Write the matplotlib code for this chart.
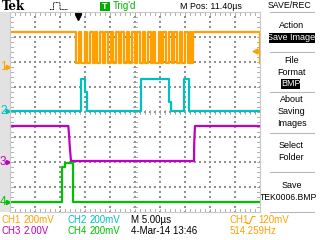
import matplotlib.pyplot as plt
import numpy as np

# time base: 5 us/div, 10 divisions -> 0..50 us ; vertical in divisions (-4..4)
ch1_edges = [13.2, 13.8, 14.2, 14.9, 15.3, 15.9, 16.5, 17.0, 17.4, 18.0,
             18.6, 19.0, 19.6, 20.2, 20.6, 21.1, 21.8, 22.2, 22.7, 23.4,
             23.8, 24.3, 24.9, 25.3, 25.9, 26.5, 26.9, 27.5, 28.1, 28.5,
             29.0, 29.7, 30.1, 30.6, 31.2, 31.7, 32.3, 32.8, 33.3, 33.9,
             34.4, 34.9, 35.5, 35.9, 36.2, 36.6]
ch1_high, ch1_low = 3.2, 1.94

ch2_t = [0, 14.26, 14.26, 15.06, 15.06, 15.4, 15.4, 26.14, 26.14, 31.86, 31.86,
         32.14, 32.14, 34.86, 34.86, 35.86, 35.86, 50]
ch2_v = [0.05, 0.05, 1.32, 1.32, 0.81, 0.81, 0.05, 0.05, 1.32, 1.32, 0.4,
         0.4, 0.05, 0.05, 1.32, 1.32, 0.05, 0.05]

ch3_t = [0, 11.66, 11.8, 12.0, 12.2, 36.8, 36.85, 37.0, 50]
ch3_v = [-0.56, -0.56, -0.9, -1.5, -1.96, -1.96, -1.2, -0.56, -0.56]

ch4_t = [0, 10.46, 10.46, 10.9, 10.9, 12.66, 12.66, 50]
ch4_v = [-3.61, -3.61, -2.19, -2.19, -2.05, -2.05, -3.61, -3.61]

ground = {"1": 1.81, "2": 0.06, "3": -1.99, "4": -3.6}
trig_level = 2.44
trig_pos = 13.6

ORANGE = "#ffa000"
CYAN = "#00c0c0"
MAGENTA = "#c000c0"
GREEN = "#00c000"
colors = {"1": ORANGE, "2": CYAN, "3": MAGENTA, "4": GREEN}

plt.rcParams["font.family"] = ["Liberation Sans", "DejaVu Sans"]

fig = plt.figure(figsize=(3.2, 2.4), dpi=100)
fig.patch.set_facecolor("white")

# overlay in screen pixels for the surrounding text
ov = fig.add_axes([0, 0, 1, 1])
ov.set_xlim(0, 320)
ov.set_ylim(240, 0)
ov.axis("off")
ov.add_patch(plt.Rectangle((0, 12), 10, 200, color="#e2e2e2", lw=0))

ax = fig.add_axes([10 / 320, 28 / 240, 250 / 320, 200 / 240])
ax.set_xlim(0, 50)
ax.set_ylim(-4, 4)
ax.set_facecolor("white")
ax.set_xticks([])
ax.set_yticks([])
for s in ax.spines.values():
    s.set_color("#c8c8c8")
    s.set_linewidth(0.8)

# graticule dots
dot = dict(s=1.3, c="#909090", marker="s", linewidths=0)
for gx in range(5, 50, 5):
    yy = np.arange(-4, 4.01, 0.2)
    ax.scatter(np.full_like(yy, gx), yy, **dot)
for gy in range(-3, 4):
    xx = np.arange(0, 50.01, 1.0)
    ax.scatter(xx, np.full_like(xx, gy), **dot)
# center cross and edge ticks
tk = dict(color="#a0a0a0", lw=0.6)
for xx in np.arange(1, 50, 1.0):
    ax.plot([xx, xx], [-0.08, 0.08], **tk)
    ax.plot([xx, xx], [4, 3.88], **tk)
    ax.plot([xx, xx], [-4, -3.88], **tk)
for yy in np.arange(-3.8, 4, 0.2):
    ax.plot([24.6, 25.4], [yy, yy], **tk)
    ax.plot([0, 0.6], [yy, yy], **tk)
    ax.plot([49.4, 50], [yy, yy], **tk)

# traces
t1 = [0] + ch1_edges + [50]
v1 = [ch1_high if i % 2 == 0 else ch1_low for i in range(len(t1))]
ax.step(t1, v1, where="post", color=ORANGE, lw=1.6)
ax.plot(ch2_t, ch2_v, color=CYAN, lw=1.6)
ax.plot(ch3_t, ch3_v, color=MAGENTA, lw=1.6)
ax.plot(ch4_t, ch4_v, color=GREEN, lw=1.6)

# ground markers
for name, lvl in ground.items():
    c = colors[name]
    ax.text(-2.0, lvl, name, color=c, fontsize=8.5, va="center", ha="left",
            clip_on=False)
    ax.plot([-1.0, -0.2], [lvl, lvl], color=c, lw=1, clip_on=False)
    ax.plot([-0.4], [lvl], marker=">", ms=3, color=c, clip_on=False)

# trigger level and position
ax.plot([48.9, 50], [trig_level, trig_level], color=ORANGE, lw=1, clip_on=False)
ax.plot([49.0], [trig_level], marker="<", ms=3.5, color=ORANGE, clip_on=False)
ax.plot([trig_pos, trig_pos], [3.98, 3.85], color="black", lw=1, clip_on=False)
ax.plot([trig_pos - 0.6, trig_pos + 0.6], [3.97, 3.97], color="black", lw=0.8,
        clip_on=False)
ax.plot([trig_pos], [3.8], marker="v", ms=4, color="black", clip_on=False)

# header
ov.text(2, 6.5, "Tek", family="DejaVu Serif", weight="bold", fontsize=8.5,
        va="center", ha="left")
ov.plot([50, 53.5, 53.5, 55, 58, 60, 60, 68], [9.5, 9.5, 3, 2.5, 2.5, 3, 9.5, 9.5],
        color="black", lw=0.7, ls=(0, (1, 0.6)))
ov.add_patch(plt.Rectangle((100, 1.5), 9.5, 9, color="#00b000", lw=0))
ov.text(104.8, 6.2, "T", color="white", fontsize=6.5, weight="bold",
        ha="center", va="center")
ov.text(113, 6.2, "Trig'd", color="#00b000", fontsize=7, ha="left", va="center")
ov.text(180, 6.2, "M Pos: 11.40\u00b5s", fontsize=6.4, ha="left", va="center")
ov.text(290, 6, "SAVE/REC", fontsize=6.3, ha="center", va="center")

# right-hand menu
for sy in [12.3, 52.3, 92.3, 132.7, 172.3, 211.7]:
    ov.plot([270, 314], [sy, sy], color="#b8b8b8", lw=0.8)
ov.add_patch(plt.Rectangle((269, 33), 46, 10, color="black", lw=0))
ov.add_patch(plt.Rectangle((281, 79), 19, 9.5, color="black", lw=0))
menu = [("Action", 26, "black"), ("Save Image", 38, "white"),
        ("File", 60.7, "black"), ("Format", 72.3, "black"),
        ("BMP", 83.7, "white"), ("About", 100, "black"),
        ("Saving", 112, "black"), ("Images", 124, "black"),
        ("Select", 146, "black"), ("Folder", 157.7, "black"),
        ("Save", 185.7, "black")]
for txt, yy, c in menu:
    ov.text(291.5, yy, txt, fontsize=6.5, color=c, ha="center", va="center")
ov.text(288, 197.3, "TEK0006.BMP", fontsize=6.2, ha="center", va="center")

# bottom status
row1, row2 = 220, 231.5
fs = 7
ov.text(1, row1, "CH1", color=ORANGE, fontsize=fs, va="center")
ov.text(24, row1, "200mV", color=ORANGE, fontsize=fs, va="center")
ov.text(67, row1, "CH2", color=CYAN, fontsize=fs, va="center")
ov.text(90, row1, "200mV", color=CYAN, fontsize=fs, va="center")
ov.text(131, row1, "M 5.00\u00b5s", color="black", fontsize=fs, va="center")
ov.text(230, row1, "CH1", color=ORANGE, fontsize=fs, va="center")
ov.plot([247, 249.5, 252.5, 255], [223.5, 223.5, 216.5, 216.5], color=ORANGE,
        lw=0.8)
ov.text(258, row1, "120mV", color=ORANGE, fontsize=fs, va="center")
ov.text(1, row2, "CH3", color=MAGENTA, fontsize=fs, va="center")
ov.text(24, row2, "2.00V", color=MAGENTA, fontsize=fs, va="center")
ov.text(67, row2, "CH4", color=GREEN, fontsize=fs, va="center")
ov.text(90, row2, "200mV", color=GREEN, fontsize=fs, va="center")
ov.text(131, row2, "4-Mar-14 13:46", color="black", fontsize=fs, va="center")
ov.text(230, row2, "514.259Hz", color=ORANGE, fontsize=fs, va="center")

fig.savefig("out.png", dpi=100)
